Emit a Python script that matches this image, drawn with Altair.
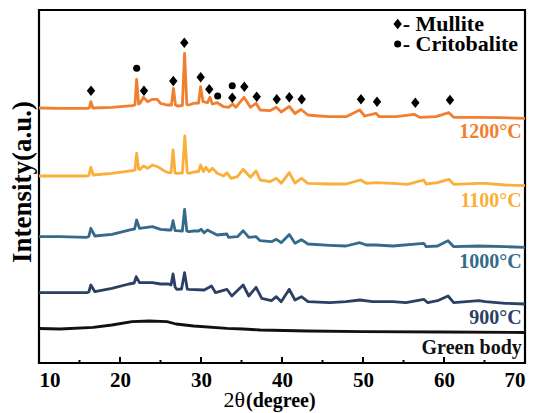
import altair as alt
import pandas as pd

# ---- data (2theta in degrees, stacked intensity in a.u.) ----
curve_1200 = [(10, 255), (12.6, 254.7), (15.9, 254.7), (16.2, 255), (16.4, 261.3), (16.65, 255),
              (19.0, 255.7), (21.5, 257.3), (21.85, 258), (22.05, 283.7), (22.3, 259), (22.5, 260),
              (22.9, 265.7), (23.4, 261.3), (24.0, 263.7), (24.6, 263.7), (25.0, 259.7), (25.8, 258),
              (26.35, 258), (26.6, 274.7), (26.85, 258), (27.1, 257), (27.7, 257.5), (27.97, 309.7),
              (28.25, 258.5), (28.5, 258), (29.1, 259.7), (29.7, 260), (29.95, 276.3), (30.25, 261.3),
              (30.8, 260.3), (31.1, 265.7), (31.4, 259), (32.0, 260.3), (32.8, 256.3), (33.4, 255.7),
              (33.9, 259), (34.3, 255.7), (35.3, 265.7), (36.1, 255.7), (36.8, 259.7), (37.3, 253),
              (38.5, 252.3), (39.3, 255.7), (39.9, 251), (40.9, 256.5), (41.6, 249.5), (42.35, 253.5),
              (43.2, 248), (44.6, 247), (45.9, 246.3), (47.9, 246.3), (49.6, 253), (50.2, 247),
              (51.6, 249.7), (52.0, 246.3), (54.1, 246.3), (56.3, 248.7), (57.0, 245.7), (59.0, 246.3),
              (60.6, 250.3), (61.2, 245.7), (64.3, 245.7), (66.8, 245.3), (70, 244.7)]

curve_1100 = [(10, 187), (12.6, 187), (15.9, 187), (16.15, 187.5), (16.4, 195.7), (16.7, 188),
              (19.0, 189.7), (21.5, 192.3), (21.85, 193), (22.05, 209.7), (22.3, 194), (22.5, 193.7),
              (22.9, 197), (23.4, 194.7), (24.0, 198), (24.8, 195.7), (25.4, 192.3), (26.0, 190.3),
              (26.3, 190.5), (26.55, 213), (26.8, 190), (27.0, 189.7), (27.7, 190), (28.0, 227),
              (28.3, 190.5), (28.5, 189.7), (29.1, 191), (29.7, 191.5), (29.95, 198), (30.3, 191.3),
              (30.6, 195.7), (31.0, 191.3), (31.4, 194.7), (32.0, 189.7), (32.8, 187), (33.2, 190.3),
              (33.7, 184.7), (34.5, 186.3), (35.2, 193.7), (36.1, 185.7), (36.8, 192), (37.3, 183),
              (38.5, 181.3), (39.3, 184.7), (39.9, 179.7), (40.9, 190.3), (41.6, 180), (42.4, 184.7),
              (43.2, 179.7), (45.9, 179), (47.9, 179), (49.7, 183), (50.4, 179.7), (51.6, 180.3),
              (53.7, 179.7), (55.5, 178.7), (57.5, 183), (57.8, 179), (59.2, 180.3), (60.6, 183.7),
              (61.2, 178.7), (64.3, 179.7), (65.1, 179.7), (67.6, 178), (70, 177.3)]

curve_1000 = [(10, 126.3), (12.6, 126.3), (15.9, 125.7), (16.15, 126.5), (16.4, 134.7), (16.9, 127),
              (19.0, 128.7), (21.5, 133.7), (21.8, 134), (22.05, 143), (22.4, 134.7), (24.0, 136.3),
              (25.0, 133.7), (26.0, 133), (26.3, 133), (26.55, 142.3), (26.8, 132.5), (27.0, 132.3),
              (27.7, 132), (27.97, 153.7), (28.25, 132), (28.5, 131.3), (29.1, 132), (29.7, 132),
              (30.0, 133.7), (30.4, 130.3), (30.8, 133), (31.2, 131.3), (32.0, 128), (33.2, 129),
              (33.4, 125.7), (34.5, 126.3), (35.2, 132.3), (35.9, 125.7), (36.8, 126.3), (37.3, 122.3),
              (38.7, 121.3), (39.3, 123.7), (39.9, 120.3), (40.9, 128.5), (41.6, 119.7), (42.4, 123.3),
              (43.2, 119), (45.9, 117.7), (47.9, 117), (49.6, 120.3), (50.4, 118), (51.6, 118),
              (53.7, 117), (57.5, 119.7), (57.8, 116.3), (59.2, 117), (60.5, 122.3), (61.2, 116.3),
              (64.3, 117), (67.6, 116.3), (70, 115.7)]

curve_900 = [(10, 70.3), (15.9, 70.3), (16.15, 71), (16.4, 78), (16.9, 71.3), (19.0, 74.7),
             (21.1, 79), (21.75, 80), (22.0, 86.3), (22.4, 80.3), (24.0, 80.3), (25.0, 79),
             (26.0, 79), (26.3, 78), (26.55, 89), (26.8, 76), (27.0, 73.7), (27.6, 74), (27.97, 90.3),
             (28.3, 74), (28.5, 73.7), (30.4, 73), (31.3, 77), (31.8, 70.3), (33.2, 73.7), (33.8, 67),
             (35.2, 78), (35.9, 67), (36.8, 75.7), (37.5, 64.7), (38.7, 62.3), (39.3, 66.3),
             (39.9, 61.3), (40.9, 73.7), (41.6, 63), (42.4, 66.3), (43.2, 61.3), (45.9, 60.3),
             (47.9, 61.3), (49.6, 63), (51.2, 61.3), (53.7, 61.3), (55.3, 60.3), (57.5, 63.7),
             (58.0, 60.3), (59.2, 62.3), (60.5, 67), (61.2, 60.3), (64.3, 62.3), (65.1, 61.3),
             (67.6, 59.7), (70, 59)]

curve_green = [(10, 34.5), (12.6, 34), (16.7, 35.7), (19.0, 38), (21.5, 41.3), (23.6, 42),
               (25.8, 41.3), (26.9, 39), (29.1, 37), (33.2, 34.7), (35.2, 34), (37.3, 33),
               (43.2, 32), (50, 31.3), (60, 31), (70, 30.5)]

series_names = ["1200°C", "1100°C", "1000°C", "900°C", "Green body"]
series_colors = ["#f07f2f", "#fbae3a", "#356a8b", "#2b4064", "#111111"]
series_curves = [curve_1200, curve_1100, curve_1000, curve_900, curve_green]
# label anchor (2theta, intensity) of each series name
label_pos = [(69.6, 231.3), (69.6, 162), (69.6, 101.3), (69.6, 44.7), (69.6, 14.7)]

# phase markers above the 1200°C pattern
mullite_marks = [(16.42, 272.3), (22.96, 272.3), (26.58, 282), (27.94, 320.3), (29.96, 285.7),
                 (31.02, 273.7), (33.86, 265.3), (35.35, 276.3), (36.88, 266.3), (39.35, 263.7),
                 (40.9, 265.7), (42.43, 263.7), (49.75, 263.7), (51.73, 261.3), (56.46, 260.3),
                 (60.74, 263)]
cristobalite_marks = [(22.06, 294.7), (32.06, 267), (33.86, 277.3)]
phase_names = ["Mullite", "Critobalite"]
legend_pos = [(54.28, 339), (54.28, 319)]

x_ticks_major = [10, 20, 30, 40, 50, 60, 70]
x_ticks_minor = [15, 25, 35, 45, 55, 65]

# ---- tables ----
curve_rows = []
for name, curve in zip(series_names, series_curves):
    for t, v in curve:
        curve_rows.append({"theta": t, "intensity": v, "series": name})
df_curves = pd.DataFrame(curve_rows)

df_labels = pd.DataFrame([{"theta": p[0], "intensity": p[1], "series": n}
                          for n, p in zip(series_names, label_pos)])

mark_rows = [{"theta": t, "intensity": v, "phase": "Mullite"} for t, v in mullite_marks]
mark_rows += [{"theta": t, "intensity": v, "phase": "Critobalite"} for t, v in cristobalite_marks]
df_marks = pd.DataFrame(mark_rows)

df_leg = pd.DataFrame([{"theta": p[0], "intensity": p[1], "phase": n,
                        "text": "- " + n} for n, p in zip(phase_names, legend_pos)])

df_major = pd.DataFrame({"theta": x_ticks_major})
df_minor = pd.DataFrame({"theta": x_ticks_minor})

W, H = 486, 353
FONT = "Liberation Serif"
xscale = alt.Scale(domain=[10, 70], nice=False, zero=False)
yscale = alt.Scale(domain=[0, 353], nice=False, zero=False)
color_scale = alt.Scale(domain=series_names, range=series_colors)
diamond = "M0,-1L0.8,0L0,1L-0.8,0Z"
shape_scale = alt.Scale(domain=phase_names, range=[diamond, "circle"])
size_scale = alt.Scale(domain=phase_names, range=[110, 50])

# one shared x axis definition for every layer (labels only; ticks drawn inward below)
x_axis = alt.Axis(orient="bottom", values=x_ticks_major, format="d", ticks=False,
                  domain=False, grid=False, labelFont=FONT, labelFontSize=21,
                  labelFontWeight="bold", labelColor="black", labelPadding=6, title=None)

X = alt.X("theta:Q", scale=xscale, axis=x_axis)
Y = alt.Y("intensity:Q", scale=yscale, axis=None)

lines = alt.Chart(df_curves).mark_line(strokeWidth=2.8, strokeJoin="round").encode(
    x=X, y=Y,
    color=alt.Color("series:N", scale=color_scale, legend=None),
)

major_ticks = alt.Chart(df_major).mark_rule(strokeWidth=2, color="black").encode(
    x=X, y=alt.value(H), y2=alt.value(H - 6))

minor_ticks = alt.Chart(df_minor).mark_rule(strokeWidth=2, color="black").encode(
    x=X, y=alt.value(H), y2=alt.value(H - 3))

markers = alt.Chart(df_marks).mark_point(filled=True, opacity=1, color="black").encode(
    x=X, y=Y,
    shape=alt.Shape("phase:N", scale=shape_scale, legend=None),
    size=alt.Size("phase:N", scale=size_scale, legend=None),
)

labels = alt.Chart(df_labels).mark_text(align="right", baseline="middle", font=FONT,
                                        fontSize=20, fontWeight="bold").encode(
    x=X, y=Y, text="series:N",
    color=alt.Color("series:N", scale=color_scale, legend=None),
)

leg_marks = alt.Chart(df_leg).mark_point(filled=True, opacity=1, color="black").encode(
    x=X, y=Y,
    shape=alt.Shape("phase:N", scale=shape_scale, legend=None),
    size=alt.Size("phase:N", scale=size_scale, legend=None),
)

leg_text = alt.Chart(df_leg).mark_text(align="left", baseline="middle", dx=5, font=FONT,
                                       fontSize=22, fontWeight="bold", color="black").encode(
    x=X, y=Y, text="text:N",
)

# axis titles as text
ytitle = alt.Chart(pd.DataFrame({"t": ["Intensity(a.u.)"]})).mark_text(
    angle=270, align="center", baseline="middle", font=FONT, fontSize=27,
    fontWeight="bold", color="black").encode(
    x=alt.value(-16), y=alt.value(172), text="t:N")

xtitle_a = alt.Chart(pd.DataFrame({"t": ["2θ"]})).mark_text(
    align="right", baseline="middle", font=FONT, fontSize=22, fontWeight="normal",
    color="black").encode(x=alt.value(206), y=alt.value(390), text="t:N")

xtitle_b = alt.Chart(pd.DataFrame({"t": ["(degree)"]})).mark_text(
    align="left", baseline="middle", font=FONT, fontSize=20, fontWeight="bold",
    color="black").encode(x=alt.value(207), y=alt.value(391), text="t:N")

chart = alt.layer(lines, major_ticks, minor_ticks, markers, labels, leg_marks, leg_text,
                  ytitle, xtitle_a, xtitle_b).properties(
    width=W, height=H,
    autosize=alt.AutoSizeParams(type="none"),
    padding={"left": 31, "top": 2, "right": 10, "bottom": 50},
    background="white",
).configure_view(stroke="black", strokeWidth=2.2)

chart.save("out.html", embed_options={"renderer": "svg", "actions": False})
